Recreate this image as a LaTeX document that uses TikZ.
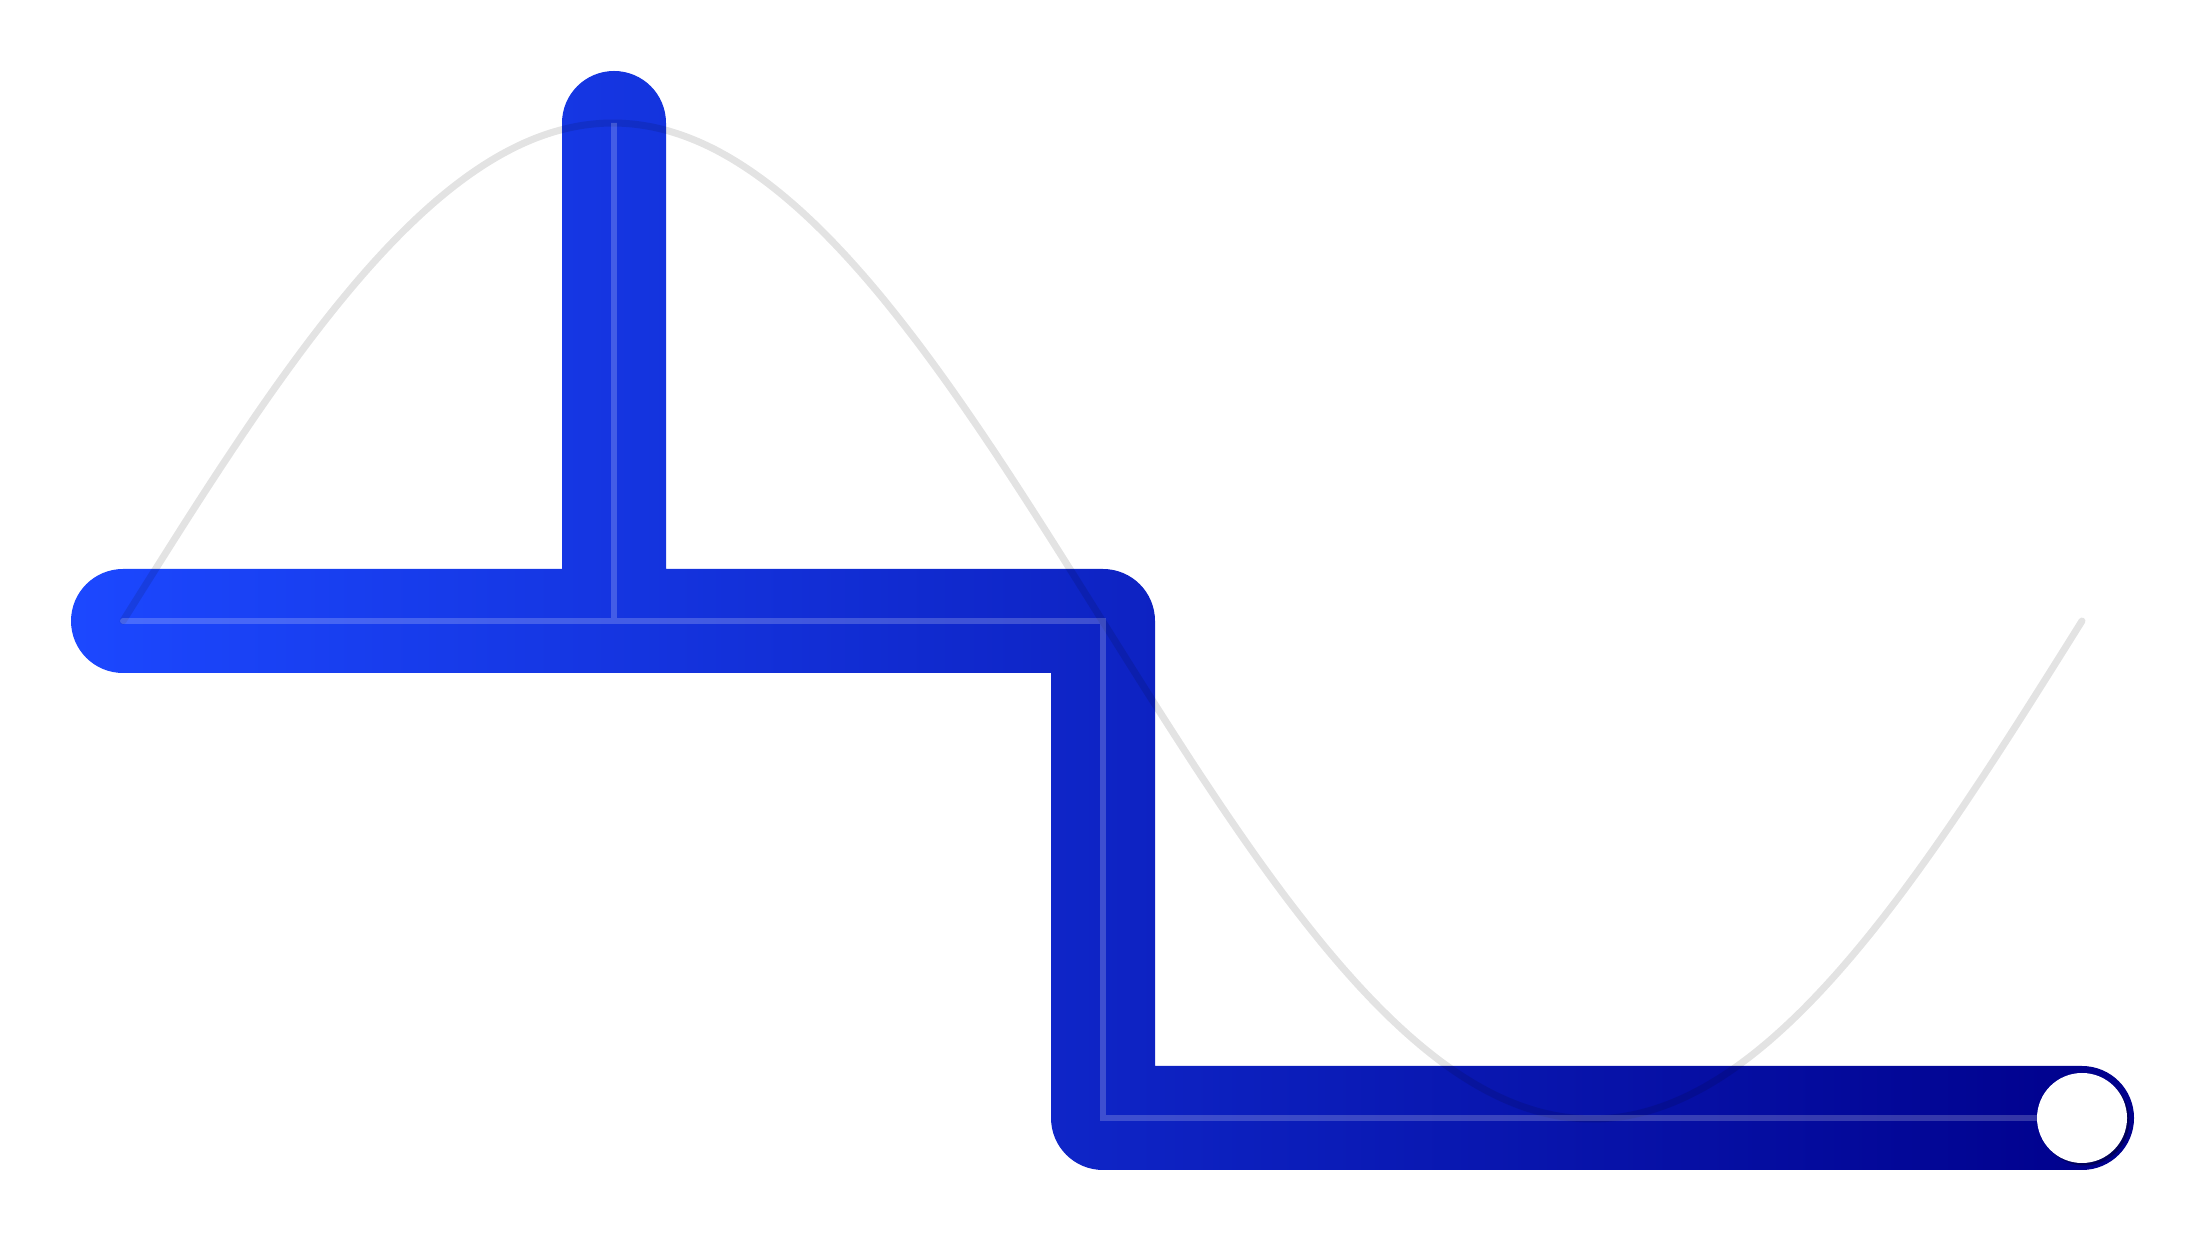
\documentclass[tikz,border=0pt]{standalone}
\usetikzlibrary{calc}
\definecolor{startblue}{RGB}{28,72,255}
\definecolor{endnavy}{RGB}{0,0,139}
\tikzset{
  sinecurve/.style={draw=black, draw opacity=0.11, line width=7pt, line cap=round},
  centerline/.style={draw=white, draw opacity=0.2, line width=6pt, line cap=round, line join=miter},
  endmark/.style={fill=white},
  endshadow/.style={fill=black, fill opacity=0.35}
}
\begin{document}
\begin{tikzpicture}[x=1pt,y=1pt]
\useasboundingbox (0,0) rectangle (2208,1242);
\coordinate (A) at (123,621);
\coordinate (B) at (614,621);
\coordinate (C) at (614,1119);
\coordinate (D) at (1103,621);
\coordinate (E) at (1103,124);
\coordinate (F) at (2082,124);
\coordinate (Fin) at (2037,124);
% thick gradient step path (outline of a stroke 104 wide)
\shade[left color=startblue, right color=endnavy]
  (123,673) -- (562,673) -- (562,1119)
  arc[start angle=180, end angle=0, radius=52] -- (666,673)
  -- (1103,673) arc[start angle=90, end angle=0, radius=52]
  -- (1155,176) -- (2082,176)
  arc[start angle=90, end angle=-90, radius=52]
  -- (1103,72) arc[start angle=270, end angle=180, radius=52]
  -- (1051,569) -- (123,569)
  arc[start angle=270, end angle=90, radius=52] -- cycle;
% sine curve
\draw[sinecurve] plot[domain=0:360, samples=120, smooth] ({123+\x/360*1959},{621+498*sin(\x)});
% center line
\draw[centerline] (A) -- (B) -- (C) -- (B) -- (D) -- (E) -- (Fin);
% end marker
\fill[endshadow] ($(F)+(2.5,-2.5)$) circle[radius=45];
\fill[endmark] (F) circle[radius=45];
\end{tikzpicture}
\end{document}
